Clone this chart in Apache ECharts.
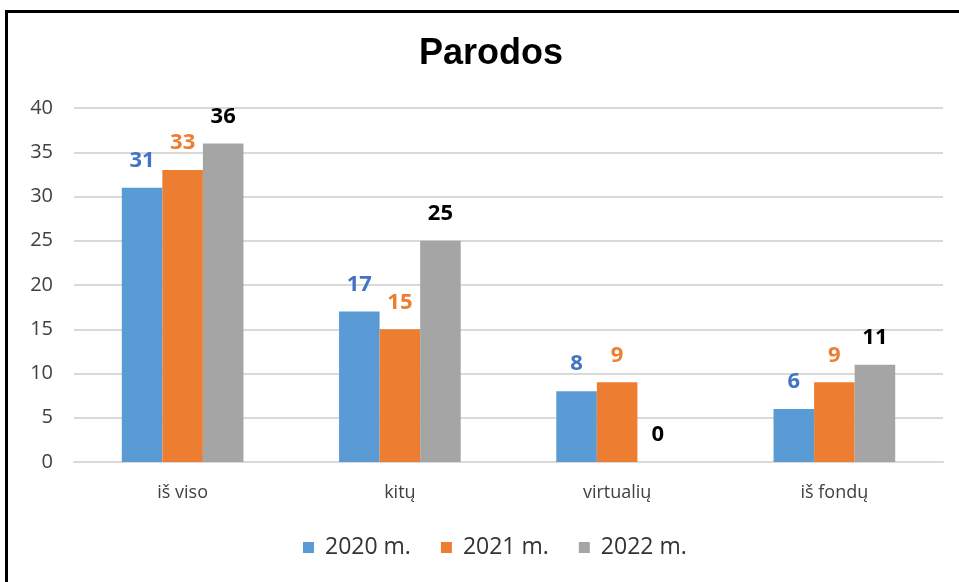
<!DOCTYPE html>
<html><head><meta charset="utf-8">
<script src="https://cdn.jsdelivr.net/npm/echarts@6/dist/echarts.min.js"></script>
<style>html,body{margin:0;padding:0;background:#fff}#c{width:959px;height:582px}</style>
</head><body><div id="c"></div>
<script>
const categories = ['iš viso', 'kitų', 'virtualių', 'iš fondų'];
const seriesNames = ['2020 m.', '2021 m.', '2022 m.'];
const values2020 = [31, 17, 8, 6];
const values2021 = [33, 15, 9, 9];
const values2022 = [36, 25, 0, 11];
const yTicks = { min: 0, max: 40, interval: 5 };

const barColors = ['#5B9BD5', '#ED7D31', '#A5A5A5'];
const labelColors = ['#4472C4', '#ED7D31', '#000000'];
const font = '"Open Sans", Lato, sans-serif';
const data = [values2020, values2021, values2022];

const chart = echarts.init(document.getElementById('c'));
chart.setOption({
  animation: false,
  backgroundColor: '#fff',
  title: {
    text: 'Parodos', left: 486, top: 31, textAlign: 'center',
    textStyle: { fontFamily: '"Liberation Sans", Arial, sans-serif', fontWeight: 'bold', fontSize: 36, color: '#000' }
  },
  grid: { left: 74, right: 16, top: 108, bottom: 120, containLabel: false },
  xAxis: {
    type: 'category', data: categories,
    axisLine: { lineStyle: { color: '#D9D9D9', width: 2 } },
    axisTick: { show: false },
    axisLabel: { fontFamily: font, fontSize: 18, color: '#404040', margin: 22 }
  },
  yAxis: {
    type: 'value', min: yTicks.min, max: yTicks.max, interval: yTicks.interval,
    axisLine: { show: false }, axisTick: { show: false },
    splitLine: { lineStyle: { color: '#D9D9D9', width: 2 } },
    axisLabel: { fontFamily: font, fontSize: 20, color: '#404040', margin: 21 }
  },
  legend: {
    data: seriesNames, bottom: 18, left: 298, itemWidth: 11, itemHeight: 11, itemGap: 30,
    icon: 'rect',
    textStyle: { fontFamily: font, fontSize: 23, color: '#333333', padding: [0, 0, 0, 6] }
  },
  graphic: [{
    type: 'rect', shape: { x: 6.5, y: 11.5, width: 1000, height: 1000 },
    style: { fill: 'none', stroke: '#000', lineWidth: 3 }, z: 100
  }],
  series: seriesNames.map((n, i) => ({
    name: n, type: 'bar', data: data[i],
    barGap: '0%', barCategoryGap: '44%',
    itemStyle: { color: barColors[i] },
    label: {
      show: true, position: 'top', distance: 16,
      fontFamily: font, fontSize: 22, fontWeight: 'bold', color: labelColors[i]
    }
  }))
});
</script></body></html>
